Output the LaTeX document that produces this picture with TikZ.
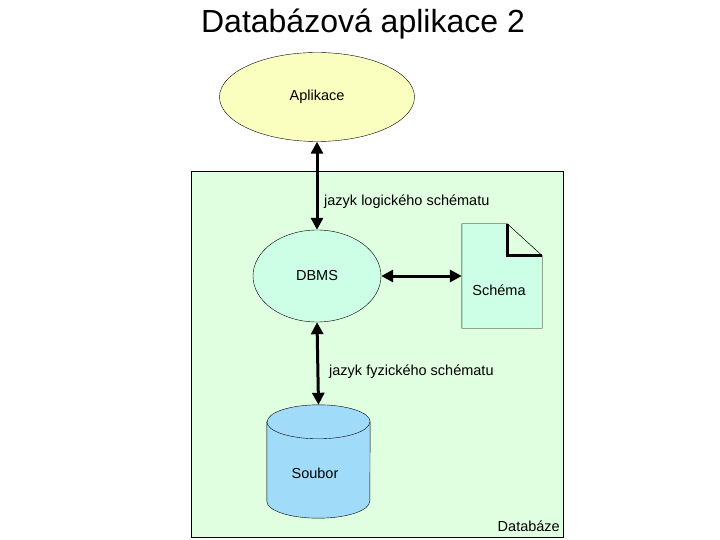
\documentclass[tikz,border=0pt]{standalone}
\usepackage{fontspec}
\setmainfont{Liberation Sans}
\usetikzlibrary{positioning, shapes.geometric, arrows.meta}
\definecolor{dbgreen}{RGB}{224,255,224}
\definecolor{appyellow}{RGB}{250,255,192}
\definecolor{dbmint}{RGB}{204,255,230}
\definecolor{fileblue}{RGB}{160,220,250}
\begin{document}
\begin{tikzpicture}[
  x=1pt, y=-1pt,
  >={Triangle[length=12pt,width=12pt]},
  conn/.style={<->, line width=3pt},
  bubble/.style={ellipse, draw, inner sep=0pt, font=\fontsize{14.5}{17}\selectfont},
  lbl/.style={font=\fontsize{14.5}{17}\selectfont, inner sep=0pt}
]
\useasboundingbox (0,0) rectangle (720,540);
% Title
\node[font=\fontsize{32}{38}\selectfont, anchor=base] (title) at (363,33) {Databázová aplikace 2};

% Database frame
\node[draw, fill=dbgreen, minimum width=372pt, minimum height=366pt, inner sep=0pt] (db) at (377,354) {};
\node[lbl, anchor=base east] (dblabel) at (560,531) {Databáze};

% Application and DBMS
\node[bubble, fill=appyellow, minimum width=195pt, minimum height=89pt] (app) at (317,97) {Aplikace};
\node[bubble, fill=dbmint, minimum width=128pt, minimum height=92pt] (dbms) at (317,276) {DBMS};

% Schema document
\node[minimum width=80pt, minimum height=104pt, inner sep=0pt] (schema) at (502,276) {};
\draw[fill=dbmint] (schema.north west) -- ([xshift=-35pt]schema.north east)
  -- ([yshift=-32pt]schema.north east) -- (schema.south east) -- (schema.south west) -- cycle;
\draw[fill=dbgreen] ([xshift=-35pt]schema.north east) -- ([yshift=-32pt]schema.north east)
  -- ([xshift=-35pt, yshift=-32pt]schema.north east) -- cycle;
\draw[line width=3pt] ([xshift=-35pt]schema.north east) |- ([yshift=-32pt]schema.north east);
\node[lbl] (schematext) at (499,290) {Schéma};

% File cylinder
\node[minimum width=103pt, minimum height=113pt, inner sep=0pt] (soubor) at (318.5,461.5) {};
\draw[fill=fileblue] ([yshift=-17pt]soubor.north west) -- ([yshift=17pt]soubor.south west)
  arc[start angle=180, end angle=360, x radius=51.5pt, y radius=17pt]
  -- ([yshift=-17pt]soubor.north east)
  arc[start angle=0, end angle=180, x radius=51.5pt, y radius=17pt] -- cycle;
\draw ([yshift=-17pt]soubor.north west)
  arc[start angle=180, end angle=360, x radius=51.5pt, y radius=17pt];
\node[lbl] (soubortext) at (315,473) {Soubor};

% Connectors
\draw[conn] (app.south) -- (dbms.north);
\node[lbl, anchor=west] (logic) at (324,202) {jazyk logického schématu};
\draw[conn] (dbms.east) -- (schema.west);
\draw[conn] (dbms.south) -- (soubor.north);
\node[lbl, anchor=west] (phys) at (329,372) {jazyk fyzického schématu};
\end{tikzpicture}
\end{document}
